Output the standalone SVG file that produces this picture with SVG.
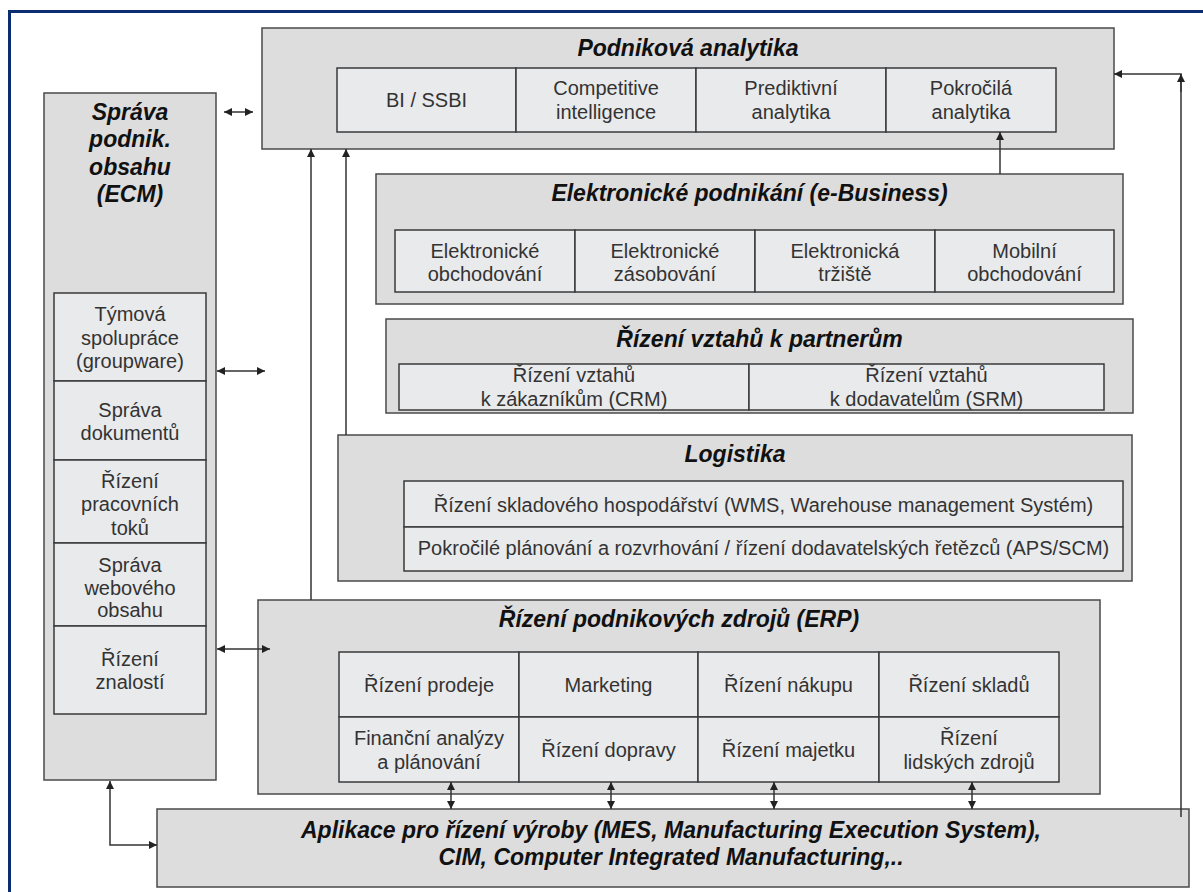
<svg xmlns="http://www.w3.org/2000/svg" width="1203" height="892" viewBox="0 0 1203 892">
  <style>
    .outer { fill: #dddddd; stroke: #4a4a4a; stroke-width: 1.5; }
    .cell { fill: #e9eaec; stroke: #3a3a3a; stroke-width: 1.5; }
    .t { font-family: "Liberation Sans", Arial, sans-serif; font-size: 20px; fill: #333333; text-anchor: middle; }
    .h { font-family: "Liberation Sans", Arial, sans-serif; font-size: 23px; font-weight: bold; font-style: italic; fill: #111111; text-anchor: middle; }
    .c { fill: none; stroke: #333333; stroke-width: 1.5; }
  </style>
  <defs>
    <marker id="ah" viewBox="0 0 10 10" refX="10" refY="5" markerWidth="9" markerHeight="8" markerUnits="userSpaceOnUse" orient="auto-start-reverse">
      <path d="M0,0 L10,5 L0,10 z" fill="#222222"/>
    </marker>
  </defs>

  <rect width="1203" height="892" fill="#ffffff"/>
  <!-- frame -->
  <rect x="9.5" y="11.5" width="1260" height="960" fill="none" stroke="#0b2d72" stroke-width="3"/>

  <g id="analytika">
    <rect class="outer" x="262" y="28" width="852" height="121"/>
    <text class="h" x="688" y="56">Podniková analytika</text>
    <rect class="cell" x="337" y="68" width="179" height="64"/>
    <rect class="cell" x="516" y="68" width="180" height="64"/>
    <rect class="cell" x="696" y="68" width="190" height="64"/>
    <rect class="cell" x="886" y="68" width="170" height="64"/>
    <text class="t" x="426.5" y="107">BI / SSBI</text>
    <text class="t" x="606" y="95">Competitive</text>
    <text class="t" x="606" y="119">intelligence</text>
    <text class="t" x="791" y="95">Prediktivní</text>
    <text class="t" x="791" y="119">analytika</text>
    <text class="t" x="971" y="95">Pokročilá</text>
    <text class="t" x="971" y="119">analytika</text>
  </g>

  <g id="ebusiness">
    <rect class="outer" x="376" y="174" width="747" height="130"/>
    <text class="h" x="749.5" y="201">Elektronické podnikání (e-Business)</text>
    <rect class="cell" x="395" y="230" width="180" height="62"/>
    <rect class="cell" x="575" y="230" width="180" height="62"/>
    <rect class="cell" x="755" y="230" width="180" height="62"/>
    <rect class="cell" x="935" y="230" width="179" height="62"/>
    <text class="t" x="485" y="258">Elektronické</text>
    <text class="t" x="485" y="281">obchodování</text>
    <text class="t" x="665" y="258">Elektronické</text>
    <text class="t" x="665" y="281">zásobování</text>
    <text class="t" x="845" y="258">Elektronická</text>
    <text class="t" x="845" y="281">tržiště</text>
    <text class="t" x="1024.5" y="258">Mobilní</text>
    <text class="t" x="1024.5" y="281">obchodování</text>
  </g>

  <g id="partneri">
    <rect class="outer" x="386" y="319" width="747" height="94"/>
    <text class="h" x="759.5" y="347">Řízení vztahů k partnerům</text>
    <rect class="cell" x="399" y="364" width="350" height="46"/>
    <rect class="cell" x="749" y="364" width="355" height="46"/>
    <text class="t" x="574" y="382">Řízení vztahů</text>
    <text class="t" x="574" y="406">k zákazníkům (CRM)</text>
    <text class="t" x="926.5" y="382">Řízení vztahů</text>
    <text class="t" x="926.5" y="406">k dodavatelům (SRM)</text>
  </g>

  <g id="logistika">
    <rect class="outer" x="338" y="435" width="794" height="146"/>
    <text class="h" x="735" y="462">Logistika</text>
    <rect class="cell" x="404" y="481" width="719" height="46"/>
    <rect class="cell" x="404" y="527" width="719" height="44"/>
    <text class="t" x="763.5" y="512">Řízení skladového hospodářství (WMS, Warehouse management Systém)</text>
    <text class="t" x="763.5" y="555">Pokročilé plánování a rozvrhování / řízení dodavatelských řetězců (APS/SCM)</text>
  </g>

  <g id="erp">
    <rect class="outer" x="258" y="600" width="842" height="194"/>
    <text class="h" x="679" y="627">Řízení podnikových zdrojů (ERP)</text>
    <rect class="cell" x="339" y="652" width="180" height="65"/>
    <rect class="cell" x="519" y="652" width="179" height="65"/>
    <rect class="cell" x="698" y="652" width="181" height="65"/>
    <rect class="cell" x="879" y="652" width="180" height="65"/>
    <rect class="cell" x="339" y="717" width="180" height="65"/>
    <rect class="cell" x="519" y="717" width="179" height="65"/>
    <rect class="cell" x="698" y="717" width="181" height="65"/>
    <rect class="cell" x="879" y="717" width="180" height="65"/>
    <text class="t" x="429" y="692">Řízení prodeje</text>
    <text class="t" x="608.5" y="692">Marketing</text>
    <text class="t" x="788.5" y="692">Řízení nákupu</text>
    <text class="t" x="969" y="692">Řízení skladů</text>
    <text class="t" x="429" y="745">Finanční analýzy</text>
    <text class="t" x="429" y="769">a plánování</text>
    <text class="t" x="608.5" y="757">Řízení dopravy</text>
    <text class="t" x="788.5" y="757">Řízení majetku</text>
    <text class="t" x="969" y="745">Řízení</text>
    <text class="t" x="969" y="769">lidských zdrojů</text>
  </g>

  <g id="mes">
    <rect class="outer" x="157" y="809" width="1032" height="78"/>
    <text class="h" x="671" y="838">Aplikace pro řízení výroby (MES, Manufacturing Execution System),</text>
    <text class="h" x="671" y="865">CIM, Computer Integrated Manufacturing,..</text>
  </g>

  <g id="ecm">
    <rect class="outer" x="44" y="93" width="172" height="687"/>
    <text class="h" x="130" y="120">Správa</text>
    <text class="h" x="130" y="147">podnik.</text>
    <text class="h" x="130" y="175">obsahu</text>
    <text class="h" x="130" y="202">(ECM)</text>
    <rect class="cell" x="54" y="293" width="152" height="88"/>
    <rect class="cell" x="54" y="381" width="152" height="79"/>
    <rect class="cell" x="54" y="460" width="152" height="83"/>
    <rect class="cell" x="54" y="543" width="152" height="83"/>
    <rect class="cell" x="54" y="626" width="152" height="88"/>
    <text class="t" x="130" y="321">Týmová</text>
    <text class="t" x="130" y="345">spolupráce</text>
    <text class="t" x="130" y="368">(groupware)</text>
    <text class="t" x="130" y="417">Správa</text>
    <text class="t" x="130" y="440">dokumentů</text>
    <text class="t" x="130" y="488">Řízení</text>
    <text class="t" x="130" y="511">pracovních</text>
    <text class="t" x="130" y="535">toků</text>
    <text class="t" x="130" y="572">Správa</text>
    <text class="t" x="130" y="595">webového</text>
    <text class="t" x="130" y="617">obsahu</text>
    <text class="t" x="130" y="666">Řízení</text>
    <text class="t" x="130" y="689">znalostí</text>
  </g>

  <g id="connectors">
    <path class="c" d="M224,112 H253" marker-start="url(#ah)" marker-end="url(#ah)"/>
    <path class="c" d="M217,371 H265" marker-start="url(#ah)" marker-end="url(#ah)"/>
    <path class="c" d="M217,649 H270" marker-start="url(#ah)" marker-end="url(#ah)"/>
    <path class="c" d="M110,781 V845 H157" marker-start="url(#ah)" marker-end="url(#ah)"/>
    <path class="c" d="M311,600 V149" marker-end="url(#ah)"/>
    <path class="c" d="M346,435 V149" marker-end="url(#ah)"/>
    <path class="c" d="M1000,174 V132" marker-end="url(#ah)"/>
    <path class="c" d="M1181,817 V74 H1114" marker-end="url(#ah)"/>
    <path class="c" d="M1181,92 V74" marker-end="url(#ah)"/>
    <path class="c" d="M451,782 V809" marker-start="url(#ah)" marker-end="url(#ah)"/>
    <path class="c" d="M611,782 V809" marker-start="url(#ah)" marker-end="url(#ah)"/>
    <path class="c" d="M774,782 V809" marker-start="url(#ah)" marker-end="url(#ah)"/>
    <path class="c" d="M972,782 V809" marker-start="url(#ah)" marker-end="url(#ah)"/>
  </g>
</svg>
